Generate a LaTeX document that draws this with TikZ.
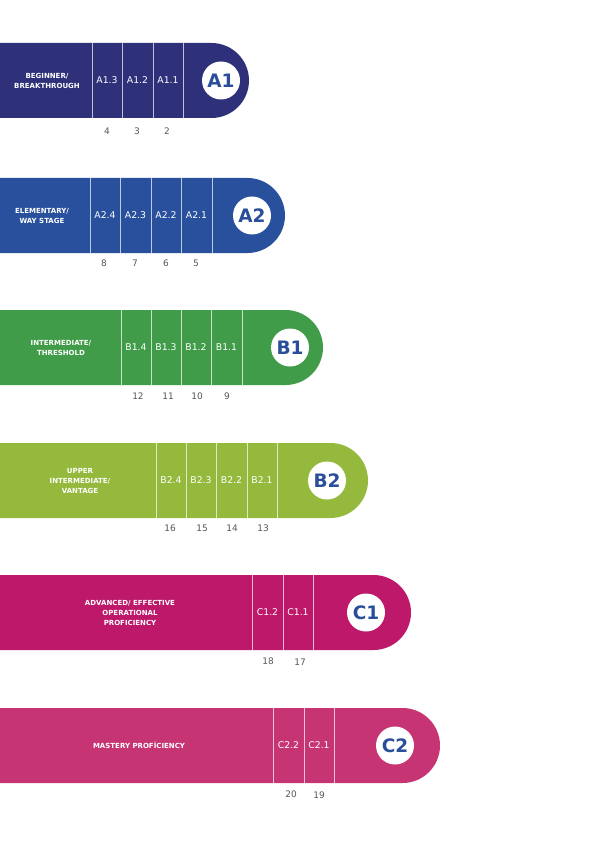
\documentclass[tikz,border=0pt]{standalone}
\usepackage{fontspec}
\setmainfont{DejaVu Sans}
\usepackage{xcolor}
\usetikzlibrary{positioning}

\definecolor{bandAone}{HTML}{2E3179}
\definecolor{bandAtwo}{HTML}{28509C}
\definecolor{bandBone}{HTML}{409C49}
\definecolor{bandBtwo}{HTML}{94B93C}
\definecolor{bandCone}{HTML}{BD1869}
\definecolor{bandCtwo}{HTML}{C73473}
\definecolor{lvlblue}{HTML}{2A4E9A}
\definecolor{numgray}{HTML}{555555}

\begin{document}
\begin{tikzpicture}[
    x=1pt, y=-1pt,
    divider/.style={draw=white, opacity=0.7, line width=0.9pt},
    cell/.style={text=white, font=\fontsize{9.3}{10}\selectfont, inner sep=1pt},
    lvl/.style={circle, fill=white, minimum size=38pt, inner sep=0pt, text=lvlblue, font=\bfseries\fontsize{18.5}{18}\selectfont},
    num/.style={text=numgray, font=\fontsize{9}{9}\selectfont, inner sep=1pt},
    desc/.style={text=white, font=\bfseries\fontsize{7}{10}\selectfont, align=center, inner sep=1pt}
]
\useasboundingbox (0,0) rectangle (595,842);

% Bands (top to bottom)
\foreach \col/\top/\xe in {bandAone/43/211.5, bandAtwo/178/247.5, bandBone/310/285.5,
                           bandBtwo/443/330.5, bandCone/575/373.5, bandCtwo/708/402.5} {
    \fill[\col] (0,\top) -- (\xe,\top) arc[start angle=-90, end angle=90, radius=37.5] -- (0,\top+75) -- cycle;
}

% Dividers
\foreach \x in {92, 122, 153, 183} \draw[divider] (\x,43) -- (\x,118);
\foreach \x in {90, 120, 151, 181, 212} \draw[divider] (\x,178) -- (\x,253);
\foreach \x in {121, 151, 181, 211, 242} \draw[divider] (\x,310) -- (\x,385);
\foreach \x in {156, 186, 216, 247, 277} \draw[divider] (\x,443) -- (\x,518);
\foreach \x in {252, 283, 313} \draw[divider] (\x,575) -- (\x,650);
\foreach \x in {273, 304, 334} \draw[divider] (\x,708) -- (\x,783);

% A1
\node[desc] (descA1) at (47,80.5) {BEGINNER/\\BREAKTHROUGH};
\node[cell] (a13) at (107,80.5) {A1.3};
\node[cell] (a12) at (137.5,80.5) {A1.2};
\node[cell] (a11) at (168,80.5) {A1.1};
\node[lvl] (lvlA1) at (221,80.5) {A1};
\node[num] (n4) at (107,131) {4};
\node[num] (n3) at (137,131) {3};
\node[num] (n2) at (167,131) {2};

% A2
\node[desc] (descA2) at (42,215.5) {ELEMENTARY/\\WAY STAGE};
\node[cell] (a24) at (105,215.5) {A2.4};
\node[cell] (a23) at (135.5,215.5) {A2.3};
\node[cell] (a22) at (166,215.5) {A2.2};
\node[cell] (a21) at (196.5,215.5) {A2.1};
\node[lvl] (lvlA2) at (252,215.5) {A2};
\node[num] (n8) at (104,263) {8};
\node[num] (n7) at (135,263) {7};
\node[num] (n6) at (166,263) {6};
\node[num] (n5) at (196,263) {5};

% B1
\node[desc] (descB1) at (61,347.5) {INTERMEDIATE/\\THRESHOLD};
\node[cell] (b14) at (136,347.5) {B1.4};
\node[cell] (b13) at (166,347.5) {B1.3};
\node[cell] (b12) at (196,347.5) {B1.2};
\node[cell] (b11) at (226.5,347.5) {B1.1};
\node[lvl] (lvlB1) at (290,347.5) {B1};
\node[num] (n12) at (138,396) {12};
\node[num] (n11) at (168,396) {11};
\node[num] (n10) at (197,396) {10};
\node[num] (n9) at (227,396) {9};

% B2
\node[desc] (descB2) at (80,480.5) {UPPER\\INTERMEDIATE/\\VANTAGE};
\node[cell] (b24) at (171,480.5) {B2.4};
\node[cell] (b23) at (201,480.5) {B2.3};
\node[cell] (b22) at (231.5,480.5) {B2.2};
\node[cell] (b21) at (262,480.5) {B2.1};
\node[lvl] (lvlB2) at (327,480.5) {B2};
\node[num] (n16) at (170,528) {16};
\node[num] (n15) at (202,528) {15};
\node[num] (n14) at (232,528) {14};
\node[num] (n13) at (263,528) {13};

% C1
\node[desc] (descC1) at (130,612.5) {ADVANCED/ EFFECTIVE\\OPERATIONAL\\PROFICIENCY};
\node[cell] (c12) at (267.5,612.5) {C1.2};
\node[cell] (c11) at (298,612.5) {C1.1};
\node[lvl] (lvlC1) at (366,612.5) {C1};
\node[num] (n18) at (268,661) {18};
\node[num] (n17) at (300,662) {17};

% C2
\node[desc] (descC2) at (139,745.5) {MASTERY PROFİCIENCY};
\node[cell] (c22) at (288.5,745.5) {C2.2};
\node[cell] (c21) at (319,745.5) {C2.1};
\node[lvl] (lvlC2) at (395,745.5) {C2};
\node[num] (n20) at (291,794) {20};
\node[num] (n19) at (319,795) {19};

\end{tikzpicture}
\end{document}
